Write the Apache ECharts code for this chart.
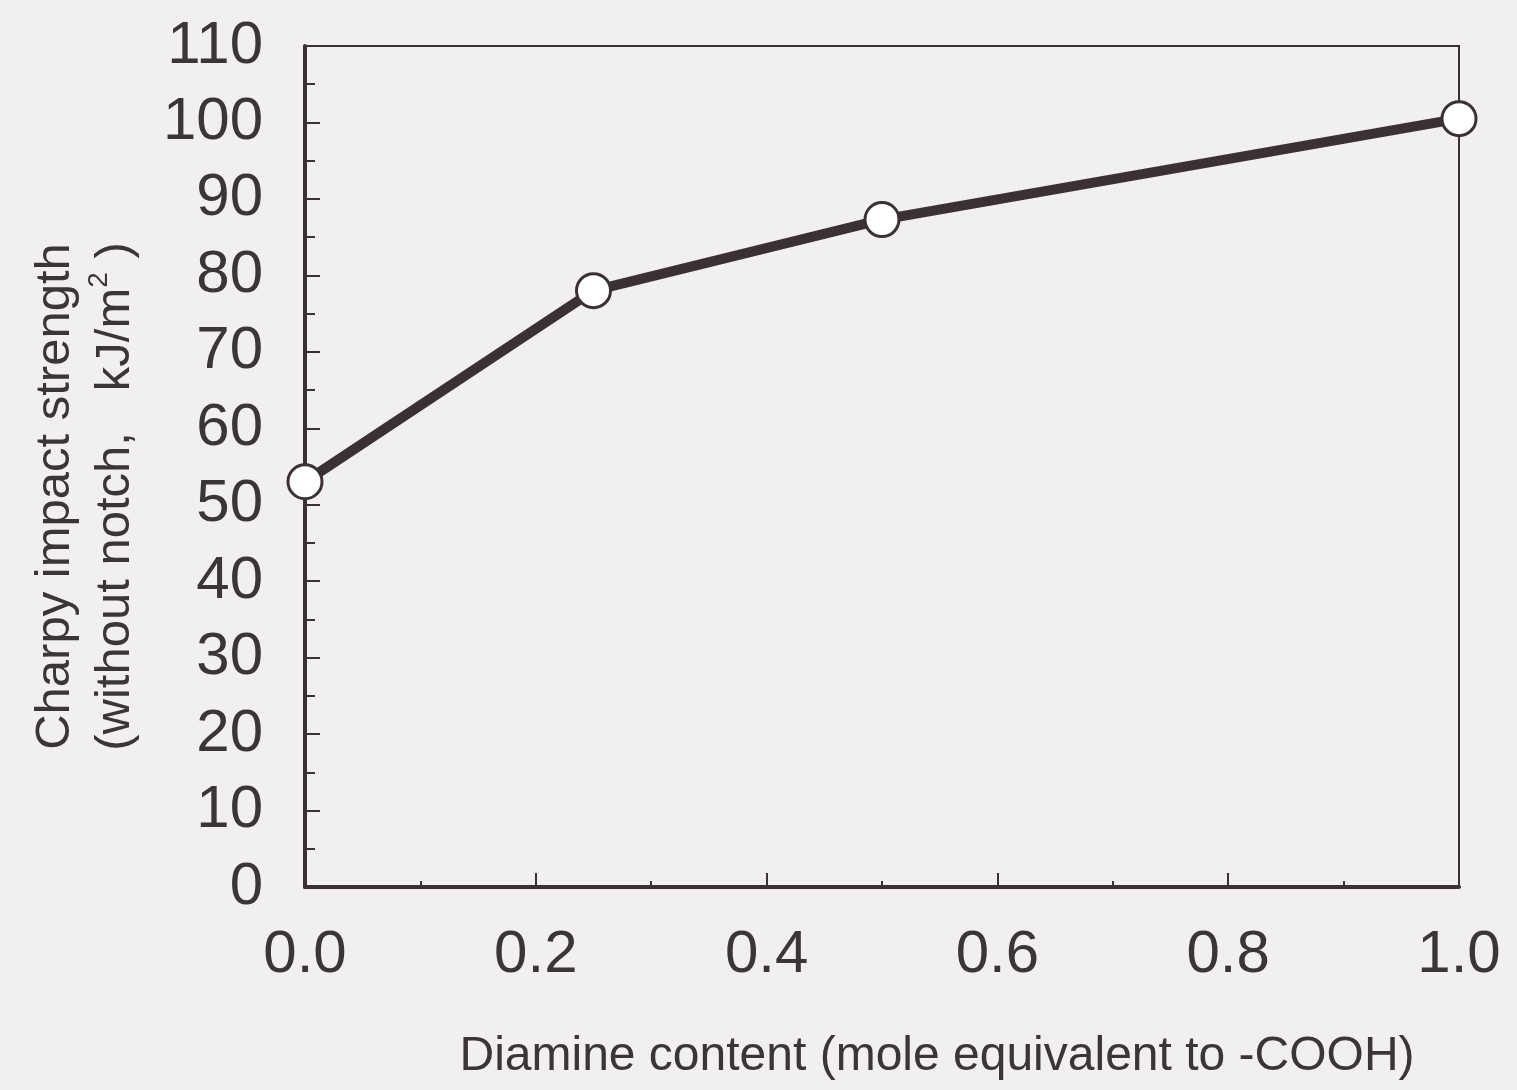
<!DOCTYPE html>
<html>
<head>
<meta charset="utf-8">
<script src="https://cdn.jsdelivr.net/npm/echarts@6/dist/echarts.min.js"></script>
<style>
  html, body { margin: 0; padding: 0; background: #f1efef; }
  #chart { width: 1517px; height: 1090px; }
</style>
</head>
<body>
<div id="chart"></div>
<script>
// Diamine content (mole equivalent to -COOH) vs. Charpy impact strength
const diamineContent = [0.0, 0.25, 0.5, 1.0];
const charpyStrength = [53, 78, 87.3, 100.5];

const xTickLabels = ['0.0', '0.2', '0.4', '0.6', '0.8', '1.0'];
const yTickLabels = ['0', '10', '20', '30', '40', '50', '60', '70', '80', '90', '100', '110'];

const ink = '#3b3133';
const textInk = '#3a3536';
const font = '"Liberation Sans", Arial, Helvetica, sans-serif';

const chart = echarts.init(document.getElementById('chart'), null, { renderer: 'canvas' });

chart.setOption({
  backgroundColor: '#f1efef',
  animation: false,
  grid: {
    left: 305, right: 58, top: 46, bottom: 203,
    containLabel: false,
    outerBoundsMode: 'none',
    show: true,
    borderColor: ink,
    borderWidth: 2,
    backgroundColor: 'transparent'
  },
  xAxis: {
    type: 'value',
    min: 0, max: 1.0, interval: 0.2,
    name: 'Diamine content (mole equivalent to -COOH)',
    nameLocation: 'middle',
    nameGap: 146,
    nameTextStyle: { fontFamily: font, fontSize: 48, color: textInk, padding: [0, 0, 0, 110] },
    axisLine: { show: true, onZero: false, lineStyle: { color: ink, width: 4 } },
    axisTick: { show: true, inside: true, length: 14, lineStyle: { color: ink, width: 2 } },
    minorTick: { show: true, splitNumber: 2, length: 6, lineStyle: { color: ink, width: 2 } },
    splitLine: { show: false },
    axisLabel: {
      margin: 38,
      fontFamily: font, fontSize: 60, color: textInk,
      formatter: (v) => xTickLabels[Math.round(v / 0.2)] ?? ''
    }
  },
  yAxis: {
    type: 'value',
    min: 0, max: 110, interval: 10,
    name: 'Charpy impact strength\n(without notch,   kJ/m{sup|2} )',
    nameLocation: 'middle',
    nameRotate: 90,
    nameGap: 160,
    nameTextStyle: {
      fontFamily: font, fontSize: 49, color: textInk, lineHeight: 60,
      padding: [0, 60, 0, 0],
      rich: {
        sup: { fontFamily: font, fontSize: 28, color: textInk, verticalAlign: 'top', padding: [0, 0, 24, 0] }
      }
    },
    axisLine: { show: true, onZero: false, lineStyle: { color: ink, width: 4 } },
    axisTick: { show: true, inside: true, length: 15, lineStyle: { color: ink, width: 2 } },
    minorTick: { show: true, splitNumber: 2, length: 10, lineStyle: { color: ink, width: 2 } },
    splitLine: { show: false },
    axisLabel: {
      margin: 42,
      fontFamily: font, fontSize: 60, color: textInk,
      formatter: (v) => yTickLabels[Math.round(v / 10)] ?? ''
    }
  },
  series: [{
    type: 'line',
    data: diamineContent.map((x, i) => [x, charpyStrength[i]]),
    symbol: 'circle',
    symbolSize: 34,
    lineStyle: { color: ink, width: 10 },
    itemStyle: { color: '#ffffff', borderColor: ink, borderWidth: 3 },
    clip: false,
    z: 5
  }]
});
</script>
</body>
</html>
